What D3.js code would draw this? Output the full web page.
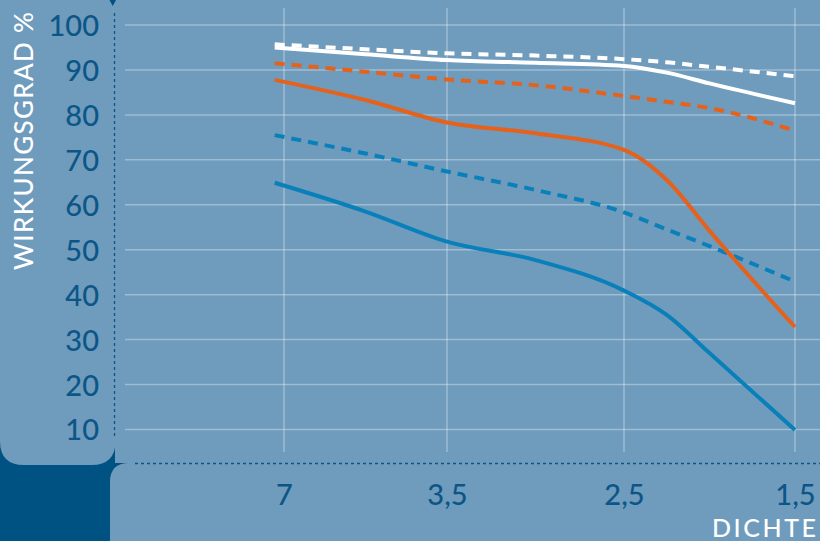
<!DOCTYPE html>
<html>
<head>
<meta charset="utf-8">
<script src="https://cdn.jsdelivr.net/npm/d3@7"></script>
<style>
  html, body { margin: 0; padding: 0; background: #005283; }
  svg { display: block; }
  text { font-family: Lato, "Open Sans", sans-serif; }
</style>
</head>
<body>
<svg id="chart" width="820" height="541"></svg>
<script>
// ---- data ----
const densities = [7.2, 5.25, 3.5, 3, 2.5, 2.25, 2, 1.5];
const xTickValues = [7, 3.5, 2.5, 1.5];
const xTickLabels = ["7", "3,5", "2,5", "1,5"];
const yTickValues = [10, 20, 30, 40, 50, 60, 70, 80, 90, 100];
const whiteDashed  = [95.7, 94.6, 93.7, 93.2, 92.4, 91.7, 90.7, 88.6];
const whiteSolid   = [95.0, 93.5, 92.2, 91.6, 90.9, 89.4, 87.0, 82.6];
const orangeDashed = [91.5, 89.6, 87.9, 86.6, 84.2, 82.9, 81.5, 76.5];
const orangeSolid  = [87.8, 83.3, 78.3, 75.9, 72.2, 65.5, 54.2, 32.8];
const blueDashed   = [75.5, 71.4, 67.4, 63.3, 58.3, 54.5, 50.8, 42.9];
const blueSolid    = [64.9, 58.5, 51.8, 47.7, 40.9, 35.5, 27.0, 9.9];
const yTitle = "WIRKUNGSGRAD %";
const xTitle = "DICHTE";

// ---- styling ----
const C = {
  navy: "#005283",
  panel: "#6f9bbd",
  label: "#0b5687",
  grid: "rgba(255,255,255,0.33)",
  white: "#ffffff",
  orange: "#e5621c",
  blue: "#0a80ba"
};

const svg = d3.select("#chart");
const W = 820, H = 541;

const x = d3.scaleLinear().domain(xTickValues).range([284, 447, 624, 795]);
const y = d3.scaleLinear().domain([10, 100]).range([429.5, 25]);

// background
svg.append("rect").attr("width", W).attr("height", H).attr("fill", C.navy);

// y panel (rounded bottom corners)
const r1 = 24;
svg.append("path")
  .attr("fill", C.panel)
  .attr("d", `M0,-5 L115.5,-5 L115.5,${465 - r1} Q115.5,465 ${115.5 - r1},465 L${r1},465 Q0,465 0,${465 - r1} Z`);
// plot panel
svg.append("rect").attr("x", 115).attr("y", -5).attr("width", W).attr("height", 468).attr("fill", C.panel);
// x panel (rounded top-left corner)
const r2 = 19;
svg.append("path")
  .attr("fill", C.panel)
  .attr("d", `M110,${463 + r2} Q110,463 ${110 + r2},463 L${W + 5},463 L${W + 5},${H + 5} L110,${H + 5} Z`);
// small top marker
svg.append("path").attr("fill", C.navy).attr("d", "M109.5,0 L116,0 L112.7,6 Z");

// grid
svg.append("g").selectAll("line").data(yTickValues).join("line")
  .attr("x1", 125).attr("x2", W)
  .attr("y1", d => y(d)).attr("y2", d => y(d))
  .attr("stroke", C.grid).attr("stroke-width", 1.5);
svg.append("g").selectAll("line").data(xTickValues).join("line")
  .attr("x1", d => x(d)).attr("x2", d => x(d))
  .attr("y1", 8).attr("y2", 452)
  .attr("stroke", C.grid).attr("stroke-width", 1.5);

// dotted axis lines
svg.append("line").attr("x1", 114.5).attr("x2", 114.5).attr("y1", 13).attr("y2", 437)
  .attr("stroke", C.label).attr("stroke-width", 1.3).attr("stroke-dasharray", "3,3");
svg.append("line").attr("x1", 135).attr("x2", W).attr("y1", 463.5).attr("y2", 463.5)
  .attr("stroke", C.label).attr("stroke-width", 1.3).attr("stroke-dasharray", "3,3");

// y axis labels
const yAxis = d3.axisLeft(y).tickValues(yTickValues).tickSize(0).tickPadding(0);
const gy = svg.append("g").attr("transform", "translate(99,0)").call(yAxis);
gy.select(".domain").remove();
gy.selectAll("text").attr("fill", C.label).attr("font-size", 29).attr("font-weight", 500)
  .attr("font-family", "Lato, sans-serif").attr("dy", "0.36em");

// x axis labels
const xAxis = d3.axisBottom(x).tickValues(xTickValues).tickFormat((d, i) => xTickLabels[i]).tickSize(0).tickPadding(0);
const gx = svg.append("g").attr("transform", "translate(0,484)").call(xAxis);
gx.select(".domain").remove();
gx.selectAll("text").attr("fill", C.label).attr("font-size", 29).attr("font-weight", 500)
  .attr("font-family", "Lato, sans-serif").attr("dy", "0.72em");

// titles
svg.append("text")
  .attr("transform", "translate(33,141) rotate(-90)")
  .attr("text-anchor", "middle")
  .attr("fill", C.white).attr("font-size", 26).attr("font-weight", 500)
  .attr("textLength", 258).attr("lengthAdjust", "spacing")
  .text(yTitle);
svg.append("text")
  .attr("x", 712).attr("y", 537)
  .attr("fill", C.white).attr("font-size", 25).attr("font-weight", 500)
  .attr("textLength", 104).attr("lengthAdjust", "spacing")
  .text(xTitle);

// lines
const series = [
  { v: blueSolid, color: C.blue, dash: null },
  { v: blueDashed, color: C.blue, dash: "10,7" },
  { v: orangeSolid, color: C.orange, dash: null },
  { v: orangeDashed, color: C.orange, dash: "10,7" },
  { v: whiteSolid, color: C.white, dash: null },
  { v: whiteDashed, color: C.white, dash: "10,7" }
];
const line = d3.line()
  .x(d => x(d[0])).y(d => y(d[1]))
  .curve(d3.curveMonotoneX);
svg.append("g").selectAll("path").data(series).join("path")
  .attr("d", s => line(densities.map((dd, i) => [dd, s.v[i]])))
  .attr("fill", "none")
  .attr("stroke", s => s.color)
  .attr("stroke-width", 4)
  .attr("stroke-dasharray", s => s.dash);
</script>
</body>
</html>
